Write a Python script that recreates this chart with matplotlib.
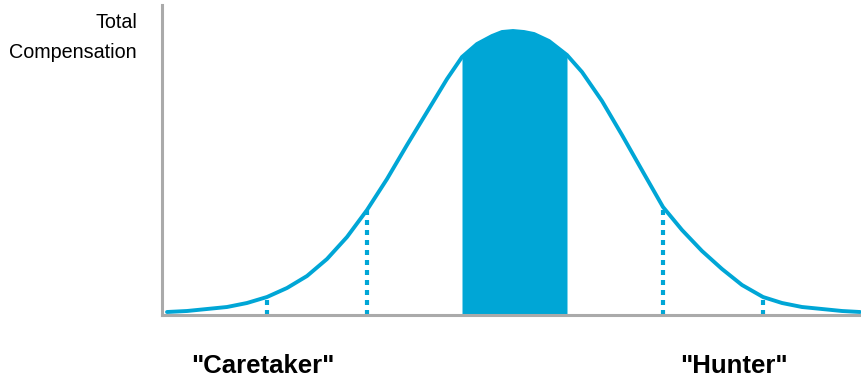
import numpy as np
import matplotlib.pyplot as plt
from matplotlib import font_manager

# bell curve traced as (position, compensation) pairs
curve_x = [5, 25, 45, 65, 85, 105, 125, 145, 165, 185, 205, 225, 245, 265, 285,
           300, 315, 330, 340, 351, 362, 372, 387, 405, 420, 440, 460, 481, 501,
           520, 540, 560, 580, 601, 620, 640, 660, 680, 698]
curve_y = [3, 4, 6, 8, 12, 18, 27, 39, 56, 78, 105, 136, 170, 203, 236,
           258, 271, 279, 283, 284, 283, 281, 274, 260, 243, 214, 180, 143, 108,
           85, 64, 46, 30, 18, 12, 8, 6, 4, 3]

# shaded middle band and the dotted marker positions
band_lo, band_hi = 300, 405
marker_x = [105, 205, 501, 601]

y_label = "Total\nCompensation"
left_label = '"Caretaker"'
right_label = '"Hunter"'

blue = "#00a6d6"
grey = "#aaaaaa"

# prefer a narrow face, otherwise shrink the text a little
names = {f.name for f in font_manager.fontManager.ttflist}
if "Liberation Sans Narrow" in names:
    face, small, big = "Liberation Sans Narrow", 17, 22
else:
    face, small, big = "Liberation Sans", 14.2, 18.5
font = [face, "DejaVu Sans"]

cx = np.array(curve_x)
cy = np.array(curve_y)

fig = plt.figure(figsize=(8.61, 3.82), dpi=100)
ax = fig.add_axes([162 / 861, 67 / 382, 699 / 861, 310 / 382])

ax.plot(cx, cy, color=blue, lw=2.8, solid_capstyle="round",
        solid_joinstyle="round", zorder=3)

band = (cx >= band_lo) & (cx <= band_hi)
ax.fill_between(cx[band], 0, cy[band], color=blue, lw=0, zorder=2)

for m in marker_x:
    top = cy[cx == m][0]
    ax.plot([m, m], [0, top], color=blue, lw=3.0, linestyle=(0, (1.2, 1.2)), zorder=2)

ax.set_xlim(0, 699)
ax.set_ylim(0, 310)
ax.set_xticks([])
ax.set_yticks([])
for s in ["top", "right"]:
    ax.spines[s].set_visible(False)
for s in ["left", "bottom"]:
    ax.spines[s].set_color(grey)
    ax.spines[s].set_linewidth(2.2)
    ax.spines[s].set_zorder(4)

fig.text(137 / 861, 1 - 13 / 382, y_label, ha="right", va="top", fontsize=small,
         family=font, linespacing=1.75)
fig.text(263 / 861, 1 - 366 / 382, left_label, ha="center", va="center",
         fontsize=big, fontweight="bold", family=font)
fig.text(734 / 861, 1 - 366 / 382, right_label, ha="center", va="center",
         fontsize=big, fontweight="bold", family=font)

fig.savefig("out.png", dpi=100)
